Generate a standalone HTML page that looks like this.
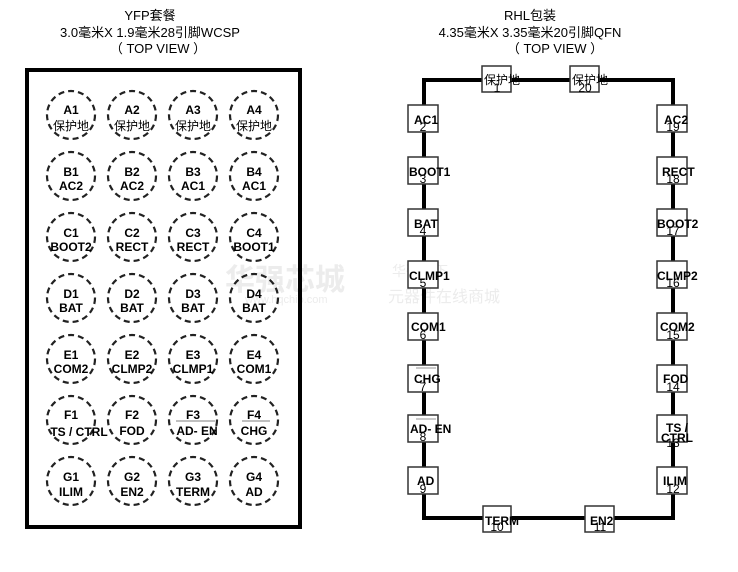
<!DOCTYPE html>
<html><head><meta charset="utf-8"><style>
html,body{margin:0;padding:0;background:#fff;width:738px;height:572px;overflow:hidden}
svg{display:block}
text{font-family:"Liberation Sans","Noto Sans CJK SC",sans-serif}
.t{font-size:13px;fill:#000}
.c1{font-size:12px;font-weight:bold;fill:#000}
.bl{font-size:12px;font-weight:bold;fill:#000}
.bn{font-size:12px;fill:#000}
</style></head><body>
<svg width="738" height="572" viewBox="0 0 738 572">
<g fill="#ececec">
<text x="225" y="290" font-size="30" font-weight="bold">华强芯城</text>
<text x="245" y="303" font-size="11">www.hqchip.com</text>
<text x="392" y="276" font-size="14">华强旗下</text>
<text x="388" y="302" font-size="16">元器件在线商城</text>
</g>
<text class="t" x="150" y="20" text-anchor="middle">YFP套餐</text>
<text class="t" x="150" y="37" text-anchor="middle">3.0毫米X 1.9毫米28引脚WCSP</text>
<text class="t" x="158" y="53" text-anchor="middle">（ TOP VIEW ）</text>
<text class="t" x="530" y="20" text-anchor="middle">RHL包装</text>
<text class="t" x="530" y="37" text-anchor="middle">4.35毫米X 3.35毫米20引脚QFN</text>
<text class="t" x="555" y="53" text-anchor="middle">（ TOP VIEW ）</text>

<rect x="27" y="70" width="273" height="457" fill="none" stroke="#000" stroke-width="4"/>
<g fill="none" stroke="#222" stroke-width="2.2" stroke-dasharray="6,4">
<circle cx="71" cy="115" r="24"/><circle cx="132" cy="115" r="24"/><circle cx="193" cy="115" r="24"/><circle cx="254" cy="115" r="24"/>
<circle cx="71" cy="176" r="24"/><circle cx="132" cy="176" r="24"/><circle cx="193" cy="176" r="24"/><circle cx="254" cy="176" r="24"/>
<circle cx="71" cy="237" r="24"/><circle cx="132" cy="237" r="24"/><circle cx="193" cy="237" r="24"/><circle cx="254" cy="237" r="24"/>
<circle cx="71" cy="298" r="24"/><circle cx="132" cy="298" r="24"/><circle cx="193" cy="298" r="24"/><circle cx="254" cy="298" r="24"/>
<circle cx="71" cy="359" r="24"/><circle cx="132" cy="359" r="24"/><circle cx="193" cy="359" r="24"/><circle cx="254" cy="359" r="24"/>
<circle cx="71" cy="420" r="24"/><circle cx="132" cy="420" r="24"/><circle cx="193" cy="420" r="24"/><circle cx="254" cy="420" r="24"/>
<circle cx="71" cy="481" r="24"/><circle cx="132" cy="481" r="24"/><circle cx="193" cy="481" r="24"/><circle cx="254" cy="481" r="24"/>
</g>
<line x1="176" y1="421" x2="215" y2="421" stroke="#aaa" stroke-width="1.5"/>
<line x1="242" y1="421" x2="270" y2="421" stroke="#aaa" stroke-width="1.5"/>
<g class="c1" text-anchor="middle">
<text x="71" y="114">A1</text><text x="132" y="114">A2</text><text x="193" y="114">A3</text><text x="254" y="114">A4</text>
<text x="71" y="130" font-weight="normal">保护地</text><text x="132" y="130" font-weight="normal">保护地</text><text x="193" y="130" font-weight="normal">保护地</text><text x="254" y="130" font-weight="normal">保护地</text>
<text x="71" y="176">B1</text><text x="132" y="176">B2</text><text x="193" y="176">B3</text><text x="254" y="176">B4</text>
<text x="71" y="190">AC2</text><text x="132" y="190">AC2</text><text x="193" y="190">AC1</text><text x="254" y="190">AC1</text>
<text x="71" y="237">C1</text><text x="132" y="237">C2</text><text x="193" y="237">C3</text><text x="254" y="237">C4</text>
<text x="71" y="251">BOOT2</text><text x="132" y="251">RECT</text><text x="193" y="251">RECT</text><text x="254" y="251">BOOT1</text>
<text x="71" y="298">D1</text><text x="132" y="298">D2</text><text x="193" y="298">D3</text><text x="254" y="298">D4</text>
<text x="71" y="312">BAT</text><text x="132" y="312">BAT</text><text x="193" y="312">BAT</text><text x="254" y="312">BAT</text>
<text x="71" y="359">E1</text><text x="132" y="359">E2</text><text x="193" y="359">E3</text><text x="254" y="359">E4</text>
<text x="71" y="373">COM2</text><text x="132" y="373">CLMP2</text><text x="193" y="373">CLMP1</text><text x="254" y="373">COM1</text>
<text x="71" y="419">F1</text><text x="132" y="419">F2</text><text x="193" y="419">F3</text><text x="254" y="419">F4</text>
<text x="79" y="436">TS / CTRL</text><text x="132" y="435">FOD</text><text x="197" y="435">AD- EN</text><text x="254" y="435">CHG</text>
<text x="71" y="481">G1</text><text x="132" y="481">G2</text><text x="193" y="481">G3</text><text x="254" y="481">G4</text>
<text x="71" y="496">ILIM</text><text x="132" y="496">EN2</text><text x="193" y="496">TERM</text><text x="254" y="496">AD</text>
</g>

<rect x="424" y="80" width="249" height="438" fill="none" stroke="#000" stroke-width="4"/>
<g fill="#fff" stroke="#333" stroke-width="1.5">
<rect x="482" y="66" width="29" height="26"/><rect x="570" y="66" width="29" height="26"/>
<rect x="408" y="105" width="30" height="27"/><rect x="408" y="157" width="30" height="27"/><rect x="408" y="209" width="30" height="27"/><rect x="408" y="261" width="30" height="27"/><rect x="408" y="313" width="30" height="27"/><rect x="408" y="365" width="30" height="27"/><rect x="408" y="415" width="30" height="27"/><rect x="408" y="467" width="30" height="27"/>
<rect x="657" y="105" width="30" height="27"/><rect x="657" y="157" width="30" height="27"/><rect x="657" y="209" width="30" height="27"/><rect x="657" y="261" width="30" height="27"/><rect x="657" y="313" width="30" height="27"/><rect x="657" y="365" width="30" height="27"/><rect x="657" y="415" width="30" height="27"/><rect x="657" y="467" width="30" height="27"/>
<rect x="483" y="506" width="28" height="26"/><rect x="585" y="506" width="29" height="26"/>
</g>
<line x1="416" y1="419" x2="436" y2="419" stroke="#aaa" stroke-width="1.2"/>
<line x1="416" y1="368" x2="436" y2="368" stroke="#aaa" stroke-width="1.2"/>
<g class="bl">
<text x="484" y="84" font-weight="normal">保护地</text><text x="572" y="84" font-weight="normal">保护地</text>
<text x="414" y="124">AC1</text><text x="409" y="176">BOOT1</text><text x="414" y="228">BAT</text><text x="409" y="280">CLMP1</text><text x="411" y="331">COM1</text><text x="414" y="383">CHG</text><text x="410" y="433">AD- EN</text><text x="417" y="485">AD</text>
<text x="664" y="124">AC2</text><text x="662" y="176">RECT</text><text x="657" y="228">BOOT2</text><text x="657" y="280">CLMP2</text><text x="660" y="331">COM2</text><text x="663" y="383">FOD</text><text x="666" y="432">TS /</text><text x="661" y="442">CTRL</text><text x="663" y="485">ILIM</text>
<text x="485" y="525">TERM</text><text x="590" y="525">EN2</text>
</g>
<g class="bn" text-anchor="middle">
<text x="497" y="92">1</text><text x="585" y="92">20</text>
<text x="423" y="131">2</text><text x="423" y="183">3</text><text x="423" y="235">4</text><text x="423" y="287">5</text><text x="423" y="339">6</text><text x="423" y="391">7</text><text x="423" y="441">8</text><text x="423" y="493">9</text>
<text x="673" y="131">19</text><text x="673" y="183">18</text><text x="673" y="235">17</text><text x="673" y="287">16</text><text x="673" y="339">15</text><text x="673" y="391">14</text><text x="673" y="447">13</text><text x="673" y="493">12</text>
<text x="497" y="531">10</text><text x="600" y="531">11</text>
</g>
</svg>
</body></html>
